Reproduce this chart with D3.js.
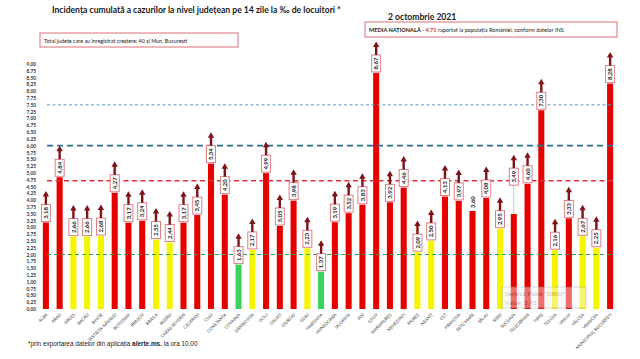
<!DOCTYPE html>
<html>
<head>
<meta charset="utf-8">
<script src="https://cdn.jsdelivr.net/npm/d3@7"></script>
<style>
  body { margin: 0; background: #fff; }
  svg { font-family: Lato, "Open Sans", sans-serif; }
</style>
</head>
<body>
<div id="chart"></div>
<script>
var svgWidth = 640;
var svgHeight = 359;

// counties in the order of the picture
var counties = ["ALBA", "ARAD", "ARGEȘ", "BACĂU", "BIHOR", "BISTRIȚA-NĂSĂUD", "BOTOȘANI", "BRAȘOV",
  "BRĂILA", "BUZĂU", "CARAȘ-SEVERIN", "CĂLĂRAȘI", "CLUJ", "CONSTANȚA", "COVASNA", "DÂMBOVIȚA",
  "DOLJ", "GALAȚI", "GIURGIU", "GORJ", "HARGHITA", "HUNEDOARA", "IALOMIȚA", "IAȘI", "ILFOV",
  "MARAMUREȘ", "MEHEDINȚI", "MUREȘ", "NEAMȚ", "OLT", "PRAHOVA", "SATU MARE", "SĂLAJ", "SIBIU",
  "SUCEAVA", "TELEORMAN", "TIMIȘ", "TULCEA", "VASLUI", "VÂLCEA", "VRANCEA", "MUNICIPIUL BUCUREȘTI"];

// incidence per 1000 inhabitants
var values = [3.18, 4.84, 2.66, 2.66, 2.68, 4.27, 3.17, 3.24,
  2.55, 2.44, 3.17, 3.45, 5.34, 4.20, 1.63, 2.17,
  4.99, 3.05, 3.98, 2.23, 1.37, 3.19, 3.52, 3.83, 8.67,
  3.92, 4.46, 2.09, 2.50, 4.13, 3.97, 3.60, 4.08, 2.95,
  3.49, 4.60, 7.30, 2.16, 3.33, 2.67, 2.25, 8.28];

// horizontal reference lines
var refValues = [7.5, 6.0, 4.71, 2.0];
var refNames = ["prag 7,5", "prag 6", "media națională", "prag 2"];

var yTickValues = d3.range(0, 9.001, 0.25);

var fmt = function (v) { return d3.format(".2f")(v).replace(".", ","); };

var svg = d3.select("#chart").append("svg")
  .attr("width", svgWidth)
  .attr("height", svgHeight);

var x = d3.scaleBand()
  .domain(counties)
  .range([39, 617])
  .paddingInner(0.56)
  .paddingOuter(0.28);

var y = d3.scaleLinear()
  .domain([0, 9])
  .range([309, 64]);

// colour by level
function barColor(v) {
  if (v < 2) return "#3bd35e";
  if (v < 3) return "#f5f500";
  return "#e60000";
}

// titles
svg.append("text")
  .attr("x", 52).attr("y", 13)
  .attr("font-size", 8.6).attr("font-weight", "bold").attr("fill", "#1a1a1a")
  .text("Incidența cumulată a cazurilor la nivel județean pe 14 zile la ‰ de locuitori *");

svg.append("text")
  .attr("x", 388).attr("y", 20)
  .attr("font-size", 8.6).attr("font-weight", "bold").attr("fill", "#1a1a1a")
  .text("2 octombrie 2021");

// info boxes
svg.append("rect")
  .attr("x", 40).attr("y", 33).attr("width", 198).attr("height", 14)
  .attr("fill", "#fff").attr("stroke", "#d9737a").attr("stroke-width", 1);
svg.append("text")
  .attr("x", 44).attr("y", 42.5)
  .attr("font-size", 5.4).attr("fill", "#222")
  .text("Total județe care au înregistrat creștere:  40 și Mun. București");

svg.append("rect")
  .attr("x", 365).attr("y", 22).attr("width", 252).attr("height", 15)
  .attr("fill", "#fff").attr("stroke", "#d9737a").attr("stroke-width", 1);
var media = svg.append("text")
  .attr("x", 369).attr("y", 32)
  .attr("font-size", 5.6).attr("fill", "#222");
media.append("tspan").attr("font-weight", "bold").text("MEDIA NAȚIONALĂ ");
media.append("tspan").attr("fill", "#e03030").attr("font-weight", "bold").text(" - 4,71");
media.append("tspan").text(" raportat la populația României, conform datelor INS");

// y axis
var yAxis = svg.append("g")
  .attr("transform", "translate(37,0)")
  .call(d3.axisLeft(y).tickValues(yTickValues).tickFormat(fmt).tickSize(0).tickPadding(1));
yAxis.select(".domain").remove();
yAxis.selectAll("text")
  .attr("font-size", 4.8).attr("font-weight", "bold").attr("fill", "#333")
  .attr("font-family", "Lato, sans-serif");

// x axis
var xAxis = svg.append("g")
  .attr("transform", "translate(0,312)")
  .call(d3.axisBottom(x).tickSize(0).tickPadding(0));
xAxis.select(".domain").remove();
xAxis.selectAll("text")
  .attr("font-size", 4.3).attr("fill", "#444")
  .attr("font-family", "Lato, sans-serif")
  .attr("text-anchor", "end")
  .attr("dy", 0)
  .attr("transform", "translate(2,3) rotate(-45)");

// bars
var barGroup = svg.append("g");
barGroup.selectAll("rect")
  .data(counties)
  .enter()
  .append("rect")
  .attr("x", function (d) { return x(d); })
  .attr("width", x.bandwidth())
  .attr("y", function (d, i) { return y(values[i]); })
  .attr("height", function (d, i) { return y(0) - y(values[i]); })
  .attr("fill", function (d, i) { return barColor(values[i]); });

// reference lines
var refStyle = [
  { color: "#5a9fc0", width: 1, dash: "3,2.5" },
  { color: "#2f6f8f", width: 1.6, dash: "6,4" },
  { color: "#e0303a", width: 1.4, dash: "5,3.5" },
  { color: "#2aa05a", width: 1.1, dash: "4,3" }
];
svg.append("g").selectAll("line")
  .data(refValues)
  .enter()
  .append("line")
  .attr("x1", 47).attr("x2", 614)
  .attr("y1", function (d) { return y(d); })
  .attr("y2", function (d) { return y(d); })
  .attr("stroke", function (d, i) { return refStyle[i].color; })
  .attr("stroke-width", function (d, i) { return refStyle[i].width; })
  .attr("stroke-dasharray", function (d, i) { return refStyle[i].dash; })
  .append("title").text(function (d, i) { return refNames[i]; });

// value labels
var plainLabel = ["SATU MARE"];
var liftedLabel = { "SUCEAVA": 4.55 };
var boxW = 9, boxH = 17;

var labels = svg.append("g").selectAll("g")
  .data(counties)
  .enter()
  .append("g")
  .attr("transform", function (d, i) {
    var cx = x(d) + x.bandwidth() / 2;
    var base = liftedLabel[d] !== undefined ? y(liftedLabel[d]) : y(values[i]) - 1;
    return "translate(" + cx + "," + base + ")";
  });

labels.each(function (d, i) {
  var g = d3.select(this);
  if (plainLabel.indexOf(d) >= 0) {
    g.append("text")
      .attr("transform", "translate(2,-2) rotate(-90)")
      .attr("font-size", 6).attr("font-weight", "bold").attr("fill", "#222")
      .text(fmt(values[i]));
    return;
  }
  if (liftedLabel[d] !== undefined) {
    g.append("line")
      .attr("x1", 0).attr("x2", 0)
      .attr("y1", 0).attr("y2", y(values[i]) - y(liftedLabel[d]))
      .attr("stroke", "#bbb").attr("stroke-width", 0.8);
  }
  g.append("rect")
    .attr("x", -boxW / 2).attr("y", -boxH)
    .attr("width", boxW).attr("height", boxH)
    .attr("fill", "#fff").attr("stroke", "#d9737a").attr("stroke-width", 0.9);
  g.append("text")
    .attr("transform", "translate(2.1," + (-boxH / 2) + ") rotate(-90)")
    .attr("text-anchor", "middle")
    .attr("font-size", 6).attr("font-weight", "bold").attr("fill", "#222")
    .text(fmt(values[i]));
  // arrow
  g.append("line")
    .attr("x1", 0).attr("x2", 0)
    .attr("y1", -boxH).attr("y2", -boxH - 9)
    .attr("stroke", "#7d1418").attr("stroke-width", 2.4);
  g.append("path")
    .attr("d", "M-3.2," + (-boxH - 8) + " L0," + (-boxH - 13.5) + " L3.2," + (-boxH - 8) + " Z")
    .attr("fill", "#7d1418");
});

// leftover Excel tooltip in the picture
var tip = svg.append("g").attr("opacity", 0.45);
tip.append("rect")
  .attr("x", 502).attr("y", 287).attr("width", 84).attr("height", 21)
  .attr("fill", "#f4f4f4").attr("stroke", "#999").attr("stroke-width", 0.8);
tip.append("text")
  .attr("x", 505).attr("y", 296)
  .attr("font-size", 6.5).attr("fill", "#777")
  .text("Series1 Point \"SIBIU\"");
tip.append("text")
  .attr("x", 505).attr("y", 305)
  .attr("font-size", 6.5).attr("fill", "#777")
  .text("Value: 2,95");

// footnote
var note = svg.append("text")
  .attr("x", 28).attr("y", 346)
  .attr("font-size", 6.4).attr("fill", "#222")
  .attr("font-family", "'Liberation Sans', Arial, sans-serif");
note.append("tspan").text("*prin exportarea datelor din aplicația ");
note.append("tspan").attr("font-weight", "bold").text("alerte.ms.");
note.append("tspan").text(" la ora 10.00");
</script>
</body>
</html>
